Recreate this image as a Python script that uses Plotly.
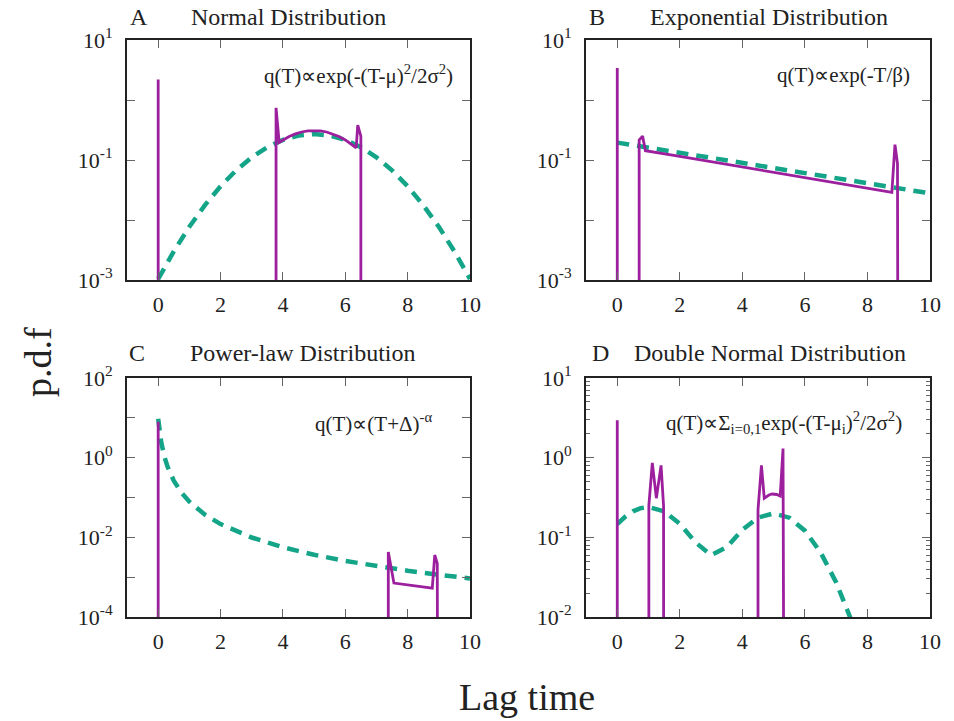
import plotly.graph_objects as go

W, H = 954, 721
FONT = "Liberation Serif"
PURPLE = "#9c1f9e"
GREEN = "#14a488"
LOW = 1e-9  # empty bins (fall below the log axis)

# ---------------- Panel A : Normal ----------------
A_T_sim = [0, 0, 0, 3.78, 3.78, 3.88, 4.0, 4.2, 4.4, 4.6, 4.8, 5.0, 5.2, 5.4, 5.6, 5.8, 6.0, 6.2, 6.35, 6.4, 6.5, 6.5]
A_q_sim = [LOW, 2.2, LOW, LOW, 0.74, 0.197, 0.216, 0.246, 0.272, 0.293, 0.306, 0.31, 0.306, 0.293, 0.272, 0.246,
           0.216, 0.184, 0.16, 0.38, 0.25, LOW]
A_T_fit = [0, 0.5, 1, 1.5, 2, 2.5, 3, 3.5, 4, 4.5, 5, 5.5, 6, 6.5, 7, 7.5, 8, 8.5, 9, 9.5, 10]
A_q_fit = [0.00104, 0.0030, 0.0077, 0.0177, 0.0365, 0.0673, 0.111, 0.164, 0.216, 0.255, 0.27,
           0.255, 0.216, 0.164, 0.111, 0.0673, 0.0365, 0.0177, 0.0077, 0.0030, 0.00104]

# ---------------- Panel B : Exponential ----------------
B_T_sim = [0, 0, 0, 0.70, 0.70, 0.81, 0.90, 2, 3, 4, 5, 6, 7, 8, 8.78, 8.88, 8.96, 8.99]
B_q_sim = [LOW, 3.4, LOW, LOW, 0.215, 0.25, 0.143, 0.1144, 0.0935, 0.0764, 0.0624, 0.051, 0.0417, 0.034,
           0.029, 0.18, 0.088, LOW]
B_T_fit = [0, 1, 2, 3, 4, 5, 6, 7, 8, 9, 10]
B_q_fit = [0.195, 0.1604, 0.132, 0.1087, 0.0895, 0.0737, 0.0606, 0.0499, 0.0411, 0.0338, 0.0278]

# ---------------- Panel C : Power law ----------------
C_T_sim = [0, 0, 0, 7.38, 7.38, 7.56, 8.79, 8.87, 8.95, 8.97]
C_q_sim = [LOW, 8.0, LOW, LOW, 0.0043, 0.00071, 0.00053, 0.0036, 0.0022, LOW]
C_T_fit = [0, 0.1, 0.2, 0.3, 0.5, 0.75, 1, 1.5, 2, 3, 4, 5, 6, 7, 8, 9, 10]
C_q_fit = [9.5, 2.375, 1.056, 0.594, 0.264, 0.131, 0.0785, 0.0371, 0.0215, 0.00989, 0.00565, 0.00365,
           0.00255, 0.00188, 0.00145, 0.00115, 0.00093]

# ---------------- Panel D : Double normal ----------------
D_T_sim = [0, 0, 0, 1.01, 1.01, 1.12, 1.25, 1.40, 1.48, 1.49,
           4.50, 4.50, 4.61, 4.70, 4.85, 4.95, 5.10, 5.21, 5.30, 5.37]
D_q_sim = [LOW, 2.95, LOW, LOW, 0.25, 0.86, 0.31, 0.80, 0.25, LOW,
           LOW, 0.22, 0.80, 0.31, 0.34, 0.35, 0.345, 0.33, 1.30, LOW]
D_T_fit = [0, 0.25, 0.5, 0.75, 1, 1.5, 2, 2.5, 3, 3.5, 4, 4.5, 5, 5.5, 6, 6.5, 7, 7.4, 7.5]
D_q_fit = [0.146, 0.181, 0.212, 0.233, 0.240, 0.212, 0.148, 0.0867, 0.0596, 0.0754, 0.124, 0.177,
           0.200, 0.1765, 0.1213, 0.0649, 0.0271, 0.0112, 0.0088]

# ---------------- Axis ticks ----------------
X_TICKS = [0, 2, 4, 6, 8, 10]
AB_Y_TICKS = [1e-3, 1e-2, 1e-1, 1, 10]
AB_Y_TEXT = ["10<sup>-3</sup>", "", "10<sup>-1</sup>", "", "10<sup>1</sup>"]
C_Y_TICKS = [1e-4, 1e-3, 1e-2, 1e-1, 1, 10, 100]
C_Y_TEXT = ["10<sup>-4</sup>", "", "10<sup>-2</sup>", "", "10<sup>0</sup>", "", "10<sup>2</sup>"]
D_Y_TICKS = [1e-2, 1e-1, 1, 10]
D_Y_TEXT = ["10<sup>-2</sup>", "10<sup>-1</sup>", "10<sup>0</sup>", "10<sup>1</sup>"]
D_Y_MINOR = [m * 10 ** e for e in (-2, -1, 0) for m in range(2, 10)]

panels = [
    ("A", "Normal Distribution", A_T_sim, A_q_sim, A_T_fit, A_q_fit, AB_Y_TICKS, AB_Y_TEXT, (-3, 1),
     "q(T)∝exp(-(T-μ)<sup>2</sup>/2σ<sup>2</sup>)"),
    ("B", "Exponential Distribution", B_T_sim, B_q_sim, B_T_fit, B_q_fit, AB_Y_TICKS, AB_Y_TEXT, (-3, 1),
     "q(T)∝exp(-T/β)"),
    ("C", "Power-law Distribution", C_T_sim, C_q_sim, C_T_fit, C_q_fit, C_Y_TICKS, C_Y_TEXT, (-4, 2),
     "q(T)∝(T+Δ)<sup>-α</sup>"),
    ("D", "Double Normal Distribution", D_T_sim, D_q_sim, D_T_fit, D_q_fit, D_Y_TICKS, D_Y_TEXT, (-2, 1),
     "q(T)∝Σ<sub>i=0,1</sub>exp(-(T-μ<sub>i</sub>)<sup>2</sup>/2σ<sup>2</sup>)"),
]

# pixel layout of the four plot areas: (left, right, top, bottom)
boxes = [(127, 470, 40, 280), (586, 930, 40, 280), (127, 470, 378, 617), (586, 930, 378, 617)]
formula_pos = [(455, 75), (912, 75), (434, 422), (904, 422)]
title_pos = [(128, 288, 17), (587, 769, 17), (127, 303, 353), (590, 770, 353)]

fig = go.Figure()
layout = dict(
    width=W, height=H, margin=dict(l=0, r=0, t=0, b=0, pad=0, autoexpand=False),
    paper_bgcolor="white", plot_bgcolor="white", showlegend=False,
    font=dict(family=FONT, size=22, color="#222"),
)
annotations = []

for i, (lab, title, ts, qs, tf, qf, yt, ytext, yr, formula) in enumerate(panels):
    n = "" if i == 0 else str(i + 1)
    l, r, t, b = boxes[i]
    xa = "x" + n
    ya = "y" + n
    fig.add_trace(go.Scatter(x=tf, y=qf, mode="lines", xaxis=xa, yaxis=ya,
                             line=dict(color=GREEN, width=4.5, dash="12px,8px")))
    fig.add_trace(go.Scatter(x=ts, y=qs, mode="lines", xaxis=xa, yaxis=ya,
                             line=dict(color=PURPLE, width=2.8)))
    common = dict(showline=True, linecolor="#222", linewidth=2, mirror="allticks",
                  ticks="inside", ticklen=8, tickwidth=1, tickcolor="#666",
                  showgrid=False, zeroline=False, automargin=False,
                  tickfont=dict(family=FONT, size=22, color="#222"))
    layout["xaxis" + n] = dict(
        domain=[l / W, r / W], anchor=ya, range=[-1, 10],
        tickmode="array", tickvals=X_TICKS, ticklabelstandoff=4, **common)
    yax = dict(
        domain=[1 - b / H, 1 - t / H], anchor=xa, type="log", range=list(yr),
        tickmode="array", tickvals=yt, ticktext=ytext, ticklabelstandoff=8, **common)
    if lab == "D":
        yax["minor"] = dict(tickmode="array", tickvals=D_Y_MINOR, ticks="inside", ticklen=4,
                            tickwidth=1, tickcolor="#666", showgrid=False)
    layout["yaxis" + n] = yax

    tl, tc, ty = title_pos[i]
    annotations.append(dict(text=lab, x=tl / W, y=1 - ty / H, xref="paper", yref="paper",
                            xanchor="left", yanchor="middle", showarrow=False,
                            font=dict(family=FONT, size=24, color="#222")))
    annotations.append(dict(text=title, x=tc / W, y=1 - ty / H, xref="paper", yref="paper",
                            xanchor="center", yanchor="middle", showarrow=False,
                            font=dict(family=FONT, size=24, color="#222")))
    fx, fy = formula_pos[i]
    annotations.append(dict(text=formula, x=fx / W, y=1 - fy / H, xref="paper", yref="paper",
                            xanchor="right", yanchor="middle", showarrow=False,
                            font=dict(family=FONT, size=21, color="#222")))

annotations.append(dict(text="p.d.f", x=38 / W, y=1 - 362 / H, xref="paper", yref="paper",
                        textangle=-90, xanchor="center", yanchor="middle", showarrow=False,
                        font=dict(family=FONT, size=38, color="#222")))
annotations.append(dict(text="Lag time", x=527 / W, y=1 - 697 / H, xref="paper", yref="paper",
                        xanchor="center", yanchor="middle", showarrow=False,
                        font=dict(family=FONT, size=38, color="#222")))
layout["annotations"] = annotations
fig.update_layout(**layout)
fig.write_html("out.html", config={"displayModeBar": False},
               post_script="document.body.style.margin='0px';document.body.style.overflow='hidden';")
